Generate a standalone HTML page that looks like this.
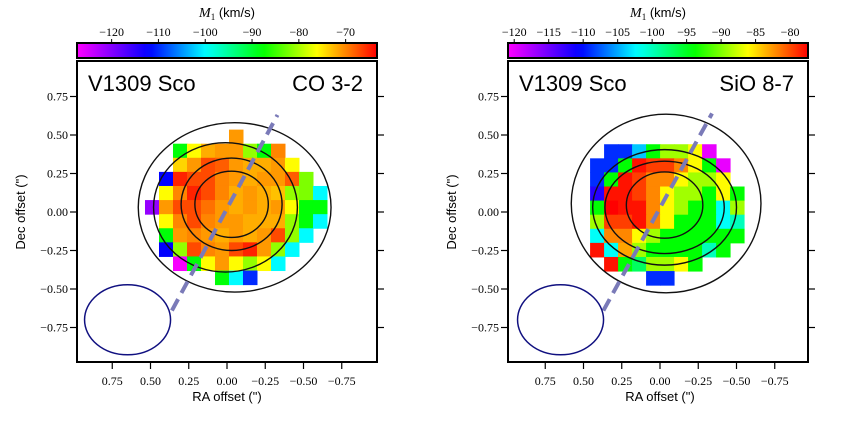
<!DOCTYPE html>
<html><head><meta charset="utf-8"><style>
body{margin:0;background:#fff;}
svg{display:block;font-family:"Liberation Serif",serif;}
.s{font-family:"Liberation Sans",sans-serif;}
</style></head><body>
<svg id="c" width="848" height="422" viewBox="0 0 848 422"></svg>
<script>
// ---- data ----
const leftTicks=[-120,-110,-100,-90,-80,-70];
const rightTicks=[-120,-115,-110,-105,-100,-95,-90,-85,-80];
const axisTicks=[0.75,0.5,0.25,0,-0.25,-0.5,-0.75];
const axisTickLabels=["0.75","0.50","0.25","0.00","\u22120.25","\u22120.50","\u22120.75"];
const N=null;
// CO 3-2 velocity grid (km/s), rows top->bottom, cols east->west
const coGrid=[
[N,N,N,N,N,N,-71,N,N,N,N,N,N],
[N,N,-88,-76,-72,-71,-71,-81,-88,-70,N,N,N],
[N,N,-74,-71,-67,-68,-71,-72,-72,-71,-76,N,N],
[N,-112,-65,-67,-67,-70,-71,-72,-71,-71,-68,-82,N],
[N,-76,-70,-65,-67,-70,-72,-71,-72,-73,-81,-82,-100],
[-121,-71,-67,-67,-69,-71,-72,-71,-72,-71,-76,-88,-88],
[N,-76,-70,-67,-70,-71,-71,-72,-72,-72,-81,-88,-100],
[N,-88,-71,-70,-71,-72,-71,-72,-71,-67,-81,-100,N],
[N,-112,-81,-67,-70,-71,-67,-65,-71,-81,-100,N,N],
[N,N,-127,-88,-76,-71,-76,-81,-76,-100,N,N,N],
[N,N,N,N,N,-88,-100,-110,N,N,N,N,N]];
// SiO 8-7 velocity grid
const sioGrid=[
[N,-109,-109,-104,-94,-89,-89,-86,-120,N,N],
[-109,-109,-94,-78,-79.5,-79.5,-82,-86,-94,-120,N],
[-109,-94,-78,-79.5,-82,-82,-86,-89,-89,-86,N],
[-112,-78,-78,-79.5,-82,-86,-89,-89,-94,-86,-94],
[-94,-77,-78,-78,-82,-86,-89,-94,-94,-102,-89],
[-89,-79.5,-79.5,-78,-82,-86,-94,-94,-94,-102,-100],
[-102,-82,-82,-86,-89,-94,-94,-94,-94,-94,-94],
[-78,-102,-83,-89,-94,-94,-94,-94,-100,-94,N],
[N,-78,-94,-97,-89,-89,-86,-94,N,N,N],
[N,N,N,N,-109,-109,N,N,N,N,N]];
// contour ellipses: [ra_center, dec_center, ra_radius, dec_radius] (arcsec)
const coContours=[[-0.03,0.05,0.24,0.215],[-0.03,0.05,0.33,0.30],[0.01,0.03,0.47,0.42],[-0.05,0.03,0.63,0.55]];
const sioContours=[[-0.03,0.045,0.25,0.215],[-0.03,0.03,0.39,0.30],[-0.03,0.03,0.47,0.375],[-0.04,0.055,0.62,0.58]];

const S="http://www.w3.org/2000/svg";
const svg=document.getElementById('c');
function el(t,a,p){const e=document.createElementNS(S,t);for(const k in a)e.setAttribute(k,a[k]);(p||svg).appendChild(e);return e;}
const stops=[[0,[255,0,255]],[0.24,[0,0,255]],[0.43,[0,255,255]],[0.62,[0,255,0]],[0.8,[255,255,0]],[1,[255,0,0]]];
function cmap(t){t=Math.max(0,Math.min(1,t));for(let i=1;i<stops.length;i++){if(t<=stops[i][0]){const a=stops[i-1],b=stops[i];const f=(t-a[0])/(b[0]-a[0]);const c=a[1].map((v,j)=>Math.round(v+(b[1][j]-v)*f));return `rgb(${c})`;}}return 'rgb(255,0,0)';}

function panel(o){
  const g=el('g',{});
  
  
  const fx=o.fx, fy=61, fw=300, fh=301;
  const xS=ra=>o.x0-ra*153, yS=d=>212-d*154;
  const vS=v=>(v-o.vmin)/(o.vmax-o.vmin);
  const defs=el('defs',{},g);
  const lg=el('linearGradient',{id:o.name+'-grad',x1:0,x2:1,y1:0,y2:0},defs);
  for(let i=0;i<=40;i++){el('stop',{offset:i/40,'stop-color':cmap(i/40)},lg);}
  const cb=el('rect',{x:fx,y:43,width:fw,height:15,fill:`url(#${o.name}-grad)`,stroke:'#000','stroke-width':2},g);
  
  
  o.ticks.forEach(v=>{const x=fx+vS(v)*fw;
    el('line',{x1:x,x2:x,y1:39,y2:43,stroke:'#000','stroke-width':1},g);
    const t=el('text',{x:x,y:36,'font-size':12,'text-anchor':'middle'},g);t.textContent='\u2212'+Math.abs(v);
    
    });
  const cl=el('text',{x:fx+fw/2,y:17,'font-size':14,'text-anchor':'middle'},g);
  cl.innerHTML='<tspan font-style="italic">M</tspan><tspan font-size="9" dy="3">1</tspan><tspan dy="-3" font-family="Liberation Sans" font-size="13"> (km/s)</tspan>';
  
  
  const cell=14/153;
  o.grid.forEach((row,r)=>row.forEach((v,c)=>{if(v===null)return;
    const ra=o.ra0-c*cell, de=o.de0-r*cell;
    const p=el('rect',{x:xS(ra),y:yS(de),width:cell*153+0.5,height:cell*154+0.5,fill:cmap(vS(v))},g);
    
    }));
  o.contours.forEach(e=>{const c=el('ellipse',{cx:xS(e[0]),cy:yS(e[1]),rx:e[2]*153,ry:e[3]*154,fill:'none',stroke:'#111','stroke-width':1.4},g);
    
    });
  const dl=el('line',{x1:xS(o.line[0]),y1:yS(o.line[1]),x2:xS(o.line[2]),y2:yS(o.line[3]),stroke:'#7a7ab8','stroke-width':4,'stroke-dasharray':'13,7'},g);
  
  
  const bm=el('ellipse',{cx:xS(0.65),cy:yS(-0.7),rx:43,ry:35,fill:'none',stroke:'#101080','stroke-width':1.5},g);
  
  
  const fr=el('rect',{x:fx,y:fy,width:fw,height:fh,fill:'none',stroke:'#000','stroke-width':2},g);
  
  
  axisTicks.forEach((v,i)=>{
    const x=xS(v);el('line',{x1:x,x2:x,y1:fy+fh,y2:fy+fh+7,stroke:'#000','stroke-width':1.2},g);
    const tx=el('text',{x:x,y:385,'font-size':12,'text-anchor':'middle'},g);tx.textContent=axisTickLabels[i];
    
    
    const y=yS(v);el('line',{x1:fx-7,x2:fx,y1:y,y2:y,stroke:'#000','stroke-width':1.2},g);
    el('line',{x1:fx+fw,x2:fx+fw+7,y1:y,y2:y,stroke:'#000','stroke-width':1.2},g);
    const ty=el('text',{x:fx-9,y:y+4,'font-size':12,'text-anchor':'end'},g);ty.textContent=axisTickLabels[i];
    
    });
  const t1=el('text',{x:fx+11,y:91,'font-size':22,class:'s'},g);t1.textContent='V1309 Sco';
  
  
  const t2=el('text',{x:fx+fw-14,y:91,'font-size':22,'text-anchor':'end',class:'s'},g);t2.textContent=o.line_name;
  
  
  const xl=el('text',{x:xS(0),y:401,'font-size':13,'text-anchor':'middle',class:'s'},g);xl.textContent='RA offset (")';
  
  
  const yl=el('text',{x:0,y:0,'font-size':13,'text-anchor':'middle',class:'s',transform:`translate(${fx-52},212) rotate(-90)`},g);yl.textContent='Dec offset (")';
  
  
}
panel({name:'co-panel',fx:77,x0:227,vmin:-127.4,vmax:-63.3,ticks:leftTicks,grid:coGrid,ra0:0.536,de0:0.535,contours:coContours,line:[0.36,-0.64,-0.33,0.63],line_name:'CO 3-2'});
panel({name:'sio-panel',fx:508,x0:660,vmin:-120.9,vmax:-77.4,ticks:rightTicks,grid:sioGrid,ra0:0.457,de0:0.44,contours:sioContours,line:[0.37,-0.64,-0.34,0.64],line_name:'SiO 8-7'});
</script>
</body></html>
